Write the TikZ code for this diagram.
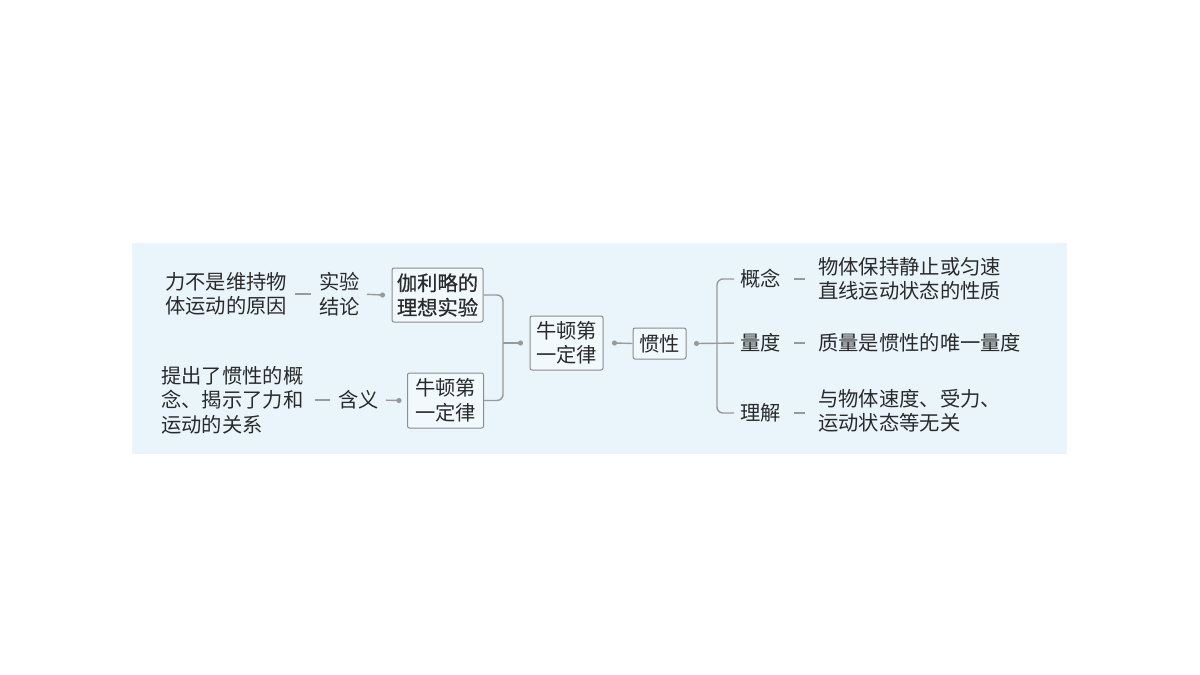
\documentclass[tikz,border=0pt]{standalone}
\usepackage{fontspec}
\setmainfont{Noto Sans CJK SC}
\newfontfamily\semib[FakeBold=0.7]{Noto Sans CJK SC}
\definecolor{bgblue}{HTML}{EAF5FB}
\definecolor{boxfill}{HTML}{F2F9FD}
\definecolor{linegray}{HTML}{999999}
\definecolor{boxgray}{HTML}{8C8C8C}
\definecolor{txt}{HTML}{2A2A2A}
\tikzset{
  plain/.style={inner sep=0pt, align=left, text=txt, font=\fontsize{20.3}{24.5}\selectfont},
  box/.style={draw=boxgray, line width=1pt, fill=boxfill, rounded corners=2pt, inner sep=2pt, align=center, text=txt, font=\fontsize{20.3}{24.5}\selectfont},
  conn/.style={draw=linegray, line width=1.4pt},
  dotmark/.style={fill=linegray},
}
\begin{document}
\begin{tikzpicture}[x=1pt,y=-1pt]
\useasboundingbox (0,0) rectangle (1200,675);
\fill[bgblue] (132,243) rectangle (1067,454);

% left texts
\node[plain, anchor=west] (t1) at (165,294) {力不是维持物\\体运动的原因};
\node[plain, anchor=west] (l1) at (319,294) {实验\\结论};
\node[box, minimum width=91pt, minimum height=54pt, font=\fontsize{20.3}{24.5}\semib] (b1) at (437.5,295) {伽利略的\\理想实验};
\node[plain, anchor=west] (t2) at (161,400) {提出了惯性的概\\念、揭示了力和\\运动的关系};
\node[plain, anchor=west] (l2) at (338,400) {含义};
\node[box, minimum width=76pt, minimum height=55pt] (b2) at (445.5,400.5) {牛顿第\\一定律};
\node[box, minimum width=73pt, minimum height=54pt] (b3) at (566.5,343) {牛顿第\\一定律};
\node[box, minimum width=53pt, minimum height=31pt] (b4) at (659.5,343.5) {惯性};

% right texts
\node[plain, anchor=west] (r1) at (740,279) {概念};
\node[plain, anchor=west] (r2) at (740,343) {量度};
\node[plain, anchor=west] (r3) at (740,413) {理解};
\node[plain, anchor=west] (d1) at (818,279) {物体保持静止或匀速\\直线运动状态的性质};
\node[plain, anchor=west] (d2) at (818,343) {质量是惯性的唯一量度};
\node[plain, anchor=west] (d3) at (818,411) {与物体速度、受力、\\运动状态等无关};

\coordinate (j1) at (503,343);
\coordinate (j2) at (717,343);
\coordinate (p1) at ([xshift=-9pt]b1.west);
\coordinate (p2) at ([xshift=-8pt]b2.west);
\coordinate (p3) at ([xshift=-9pt]b3.west);
\coordinate (p4) at ([xshift=11pt]b3.east);
\coordinate (p5) at ([xshift=10pt]b4.east);

% left connectors
\draw[conn, shorten <=8pt, shorten >=8pt] (t1.east) -- (l1.west);
\draw[conn, shorten <=7pt] (l1.east) -- (p1);
\fill[dotmark] (p1) circle (2.6pt);
\draw[conn, shorten <=11pt, shorten >=8pt] (t2.east) -- (l2.west);
\draw[conn, shorten <=7pt] (l2.east) -- (p2);
\fill[dotmark] (p2) circle (2.6pt);
\draw[conn, rounded corners=6pt] (b1.east) -| (j1) |- (b2.east);
\draw[conn] (j1) -- (p3);
\fill[dotmark] (p3) circle (2.6pt);
\draw[conn] (b4.west) -- (p4);
\fill[dotmark] (p4) circle (2.6pt);

% right connectors
\fill[dotmark] (p5) circle (2.6pt);
\draw[conn, shorten >=6pt] (p5) -- (r2.west);
\draw[conn, rounded corners=6pt] ([xshift=-6pt]r1.west) -| (j2) |- ([xshift=-6pt]r3.west);
\draw[conn, shorten <=13pt, shorten >=13pt] (r1.east) -- (r1.east -| d1.west);
\draw[conn, shorten <=13pt, shorten >=13pt] (r2.east) -- (d2.west);
\draw[conn, shorten <=13pt, shorten >=13pt] (r3.east) -- (r3.east -| d3.west);
\end{tikzpicture}
\end{document}
